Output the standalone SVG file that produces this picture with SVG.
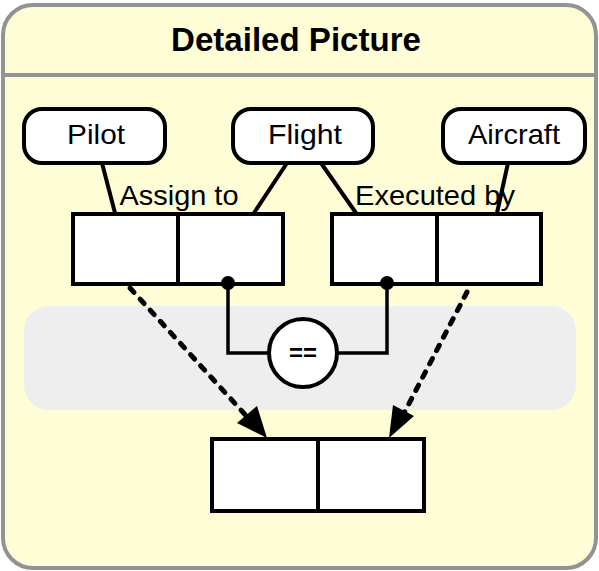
<svg xmlns="http://www.w3.org/2000/svg" width="599" height="571" viewBox="0 0 599 571">
<defs>
<style>
.frame{fill:#FFFDD5;stroke:#939393;stroke-width:4}
.node{fill:#fff;stroke:#000;stroke-width:4}
.lbl{font-family:"Liberation Sans",Arial,sans-serif;font-size:28px;fill:#000;text-anchor:middle}
.edge{fill:none;stroke:#000;stroke-width:4}
.join{fill:none;stroke:#000;stroke-width:3.5}
.dash{fill:none;stroke:#000;stroke-width:5;stroke-dasharray:6 9;stroke-linecap:round}
</style>
</defs>
<g id="frame">
<rect class="frame" x="3" y="5" width="593" height="563" rx="30"/>
<line x1="3" y1="75" x2="596" y2="75" stroke="#939393" stroke-width="4"/>
<text x="296" y="51" font-family="Liberation Sans,Arial,sans-serif" font-size="34" font-weight="bold" text-anchor="middle" textLength="250" lengthAdjust="spacingAndGlyphs">Detailed Picture</text>
</g>
<g id="band">
<rect x="24" y="306" width="552" height="104" rx="25" fill="#EEEEEE"/>
</g>
<g id="pilot">
<rect class="node" x="24" y="109" width="141" height="54" rx="18"/>
<text class="lbl" x="96" y="144" textLength="58" lengthAdjust="spacingAndGlyphs">Pilot</text>
</g>
<g id="flight">
<rect class="node" x="233" y="109" width="140" height="54" rx="18"/>
<text class="lbl" x="305" y="144" textLength="74" lengthAdjust="spacingAndGlyphs">Flight</text>
</g>
<g id="aircraft">
<rect class="node" x="443" y="109" width="142" height="54" rx="18"/>
<text class="lbl" x="514" y="144" textLength="92" lengthAdjust="spacingAndGlyphs">Aircraft</text>
</g>
<g id="assign">
<rect class="node" x="73" y="214" width="105" height="70"/>
<rect class="node" x="178" y="214" width="105" height="70"/>
<text class="lbl" x="179" y="205" textLength="119" lengthAdjust="spacingAndGlyphs">Assign to</text>
</g>
<g id="executed">
<rect class="node" x="332" y="214" width="105" height="70"/>
<rect class="node" x="437" y="214" width="104" height="70"/>
<text class="lbl" x="435" y="205" textLength="160" lengthAdjust="spacingAndGlyphs">Executed by</text>
</g>
<g id="result">
<rect class="node" x="212" y="439" width="106" height="72"/>
<rect class="node" x="318" y="439" width="106" height="72"/>
</g>
<g id="connectors">
<line class="edge" x1="102" y1="163" x2="115" y2="213"/>
<line class="edge" x1="287" y1="163" x2="254" y2="213"/>
<line class="edge" x1="321" y1="163" x2="356" y2="213"/>
<line class="edge" x1="508" y1="163" x2="497" y2="213"/>
<polyline class="join" points="228,283 228,353 269,353"/>
<polyline class="join" points="337,353 387,353 387,283"/>
<circle cx="228" cy="283" r="7" fill="#000"/>
<circle cx="387" cy="283" r="7" fill="#000"/>
<line class="dash" x1="130" y1="288" x2="250" y2="420"/>
<polygon points="267,438 237,423 257,406" fill="#000"/>
<line class="dash" x1="467" y1="292" x2="401" y2="419"/>
<polygon points="389,438 393,405 414,416" fill="#000"/>
</g>
<g id="equals">
<circle class="node" cx="303" cy="353" r="34"/>
<text x="303" y="361" font-family="Liberation Sans,Arial,sans-serif" font-size="24" font-weight="bold" text-anchor="middle">==</text>
</g>
</svg>
